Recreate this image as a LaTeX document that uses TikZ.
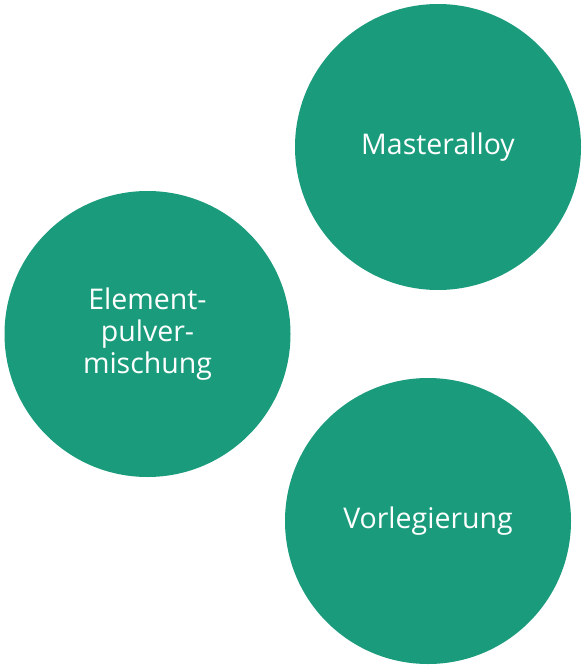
\documentclass[tikz,border=0pt]{standalone}
\usepackage{fontspec}
\setmainfont{Open Sans}
\definecolor{circ}{HTML}{1A9C7C}
\tikzset{bubble/.style={circle, fill=circ, minimum size=286pt, inner sep=0pt, text=white, align=center, font=\fontsize{28.5}{32}\selectfont}}
\begin{document}
\begin{tikzpicture}[x=1pt,y=-1pt]
\useasboundingbox (0,0) rectangle (585,669);
\node[bubble] (m) at (438,147) {Masteralloy};
\node[bubble] (e) at (147.5,334) {Element-\\pulver-\\mischung};
\node[bubble] (v) at (428,521) {Vorlegierung};
\end{tikzpicture}
\end{document}
